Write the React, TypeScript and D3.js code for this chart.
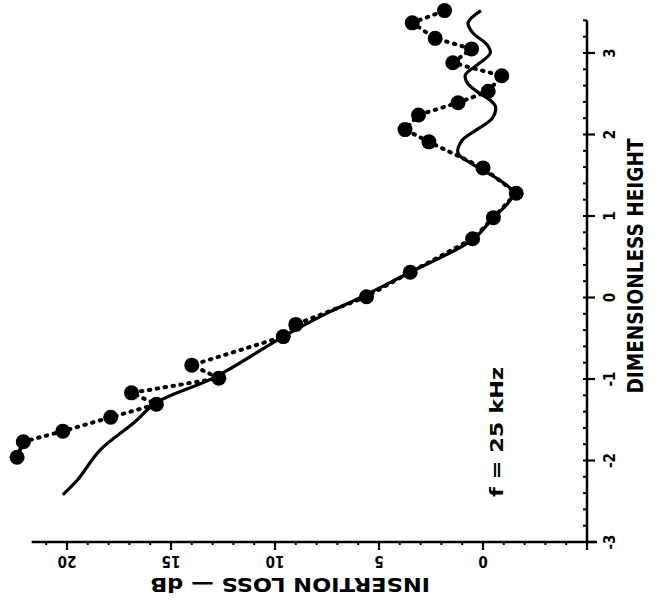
import React from 'react';
import * as d3 from 'd3';

// measured points (dimensionless height, insertion loss dB), bottom to top
const measuredHeight = [-1.96, -1.77, -1.64, -1.47, -1.31, -1.17, -0.99, -0.83, -0.48, -0.33, 0.01, 0.31, 0.72, 0.98, 1.28, 1.59, 1.91, 2.06, 2.24, 2.39, 2.53, 2.72, 2.88, 3.05, 3.18, 3.37, 3.52];
const measuredLoss = [22.4, 22.1, 20.2, 17.9, 15.7, 16.9, 12.7, 14.0, 9.6, 9.0, 5.6, 3.5, 0.5, -0.5, -1.6, 0.0, 2.6, 3.75, 3.1, 1.2, -0.25, -0.9, 1.45, 0.55, 2.3, 3.4, 1.85];

// theory curve
const theoryHeight = [-2.42, -2.24, -1.87, -1.54, -1.29, -0.98, -0.48, -0.18, 0.01, 0.18, 0.31, 0.71, 0.98, 1.16, 1.29, 1.44, 1.56, 1.65, 1.77, 1.93, 2.06, 2.2, 2.34, 2.42, 2.52, 2.63, 2.73, 2.85, 3.0, 3.1, 3.25, 3.37, 3.52];
const theoryLoss = [20.2, 19.5, 18.4, 16.8, 15.7, 12.9, 9.6, 7.4, 5.8, 4.5, 3.5, 0.5, -0.5, -1.2, -1.45, -0.8, 0.0, 0.6, 1.2, 1.0, 0.3, -0.45, -0.6, -0.35, 0.25, 0.75, 0.85, 0.3, -0.35, -0.2, 0.5, 0.72, 0.1];

const lossTicks = [0, 5, 10, 15, 20];
const heightTicks = [-3, -2, -1, 0, 1, 2, 3];

const font = '"Liberation Sans Narrow", "DejaVu Sans Condensed", "Liberation Sans", sans-serif';

export default function App() {
  const width = 654;
  const height = 605;

  // the figure is printed turned on its side: height runs up, loss runs left
  const hScale = d3.scaleLinear().domain([-3, 3]).range([542, 53]);
  const lScale = d3.scaleLinear().domain([0, 5]).range([483, 379]);

  const axisX = lScale(-5);
  const axisY = hScale(-3);

  const idx = d3.range(theoryHeight.length);
  const theoryPath = d3.line<number>()
    .x(i => lScale(theoryLoss[i]))
    .y(i => hScale(theoryHeight[i]))
    .curve(d3.curveCatmullRom.alpha(0.5))(idx);

  const midx = d3.range(measuredHeight.length);
  const measuredPath = d3.line<number>()
    .x(i => lScale(measuredLoss[i]))
    .y(i => hScale(measuredHeight[i]))(midx);

  const lossMinor = d3.range(-5, 22, 1);
  const heightMinor = d3.range(-3, 3.45, 0.2);

  return (
    <svg width={width} height={height} style={{ position: 'absolute', left: 0, top: 0, background: '#fff' }}>
      {/* loss axis */}
      <line x1={lScale(21.7)} x2={axisX + 10} y1={axisY} y2={axisY} stroke="#000" strokeWidth={2.5} />
      {lossMinor.map(v => (
        <line key={'lm' + v} x1={lScale(v)} x2={lScale(v)} y1={axisY} y2={axisY + 3} stroke="#000" strokeWidth={2} />
      ))}
      {[-5, ...lossTicks].map(v => (
        <line key={'lt' + v} x1={lScale(v)} x2={lScale(v)} y1={axisY} y2={axisY + 8} stroke="#000" strokeWidth={2.2} />
      ))}
      {lossTicks.map(v => (
        <text key={'ll' + v} x={lScale(v)} y={axisY + 19} fontFamily={font} fontWeight="bold" fontSize={15}
          textAnchor="middle" dominantBaseline="central" transform={`rotate(180 ${lScale(v)} ${axisY + 19})`}>
          {v}
        </text>
      ))}
      <text x={290} y={585} fontFamily={font} fontWeight="bold" fontSize={19} textAnchor="middle"
        dominantBaseline="central" textLength={280} lengthAdjust="spacingAndGlyphs" transform="rotate(180 290 585)">
        INSERTION LOSS — dB
      </text>

      {/* height axis */}
      <line x1={axisX} x2={axisX} y1={hScale(3.4)} y2={axisY} stroke="#000" strokeWidth={2.5} />
      {heightMinor.map((v, i) => (
        <line key={'hm' + i} x1={axisX - 4} x2={axisX} y1={hScale(v)} y2={hScale(v)} stroke="#000" strokeWidth={2} />
      ))}
      {heightTicks.map(v => (
        <line key={'ht' + v} x1={axisX} x2={axisX + 8} y1={hScale(v)} y2={hScale(v)} stroke="#000" strokeWidth={2.2} />
      ))}
      {heightTicks.map(v => (
        <text key={'hl' + v} x={axisX + 23} y={hScale(v)} fontFamily={font} fontWeight="bold" fontSize={15}
          textAnchor="middle" dominantBaseline="central" transform={`rotate(-90 ${axisX + 23} ${hScale(v)})`}>
          {v}
        </text>
      ))}
      <text x={635} y={266} fontFamily={font} fontWeight="bold" fontSize={22} textAnchor="middle"
        dominantBaseline="central" textLength={255} lengthAdjust="spacingAndGlyphs" transform="rotate(-90 635 266)">
        DIMENSIONLESS HEIGHT
      </text>

      <text x={497} y={432} fontFamily={font} fontWeight="bold" fontSize={17} textAnchor="middle"
        dominantBaseline="central" textLength={130} lengthAdjust="spacingAndGlyphs" transform="rotate(-90 497 432)">
        f = 25 kHz
      </text>

      {/* measured: dotted link */}
      <path d={measuredPath ?? ''} fill="none" stroke="#000" strokeWidth={4} strokeDasharray="1.5 6.5" strokeLinecap="round" />
      {/* theory */}
      <path d={theoryPath ?? ''} fill="none" stroke="#000" strokeWidth={3.2} strokeLinejoin="round" />
      {midx.map(i => (
        <circle key={'p' + i} cx={lScale(measuredLoss[i])} cy={hScale(measuredHeight[i])} r={7.5} fill="#000" />
      ))}
    </svg>
  );
}
